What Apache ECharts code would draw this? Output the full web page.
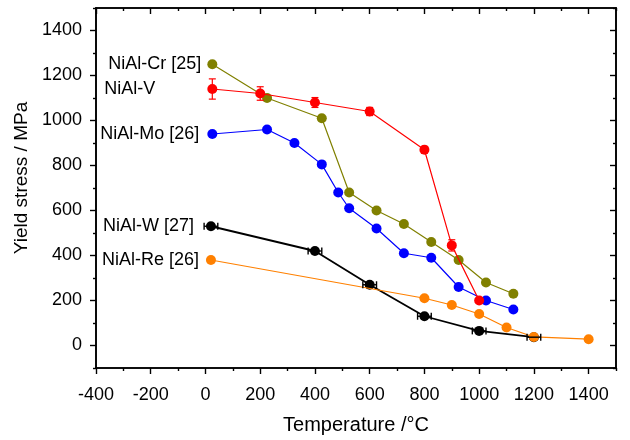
<!DOCTYPE html>
<html>
<head>
<meta charset="utf-8">
<script src="https://cdn.jsdelivr.net/npm/echarts@6/dist/echarts.min.js"></script>
<style>html,body{margin:0;padding:0;background:#fff}#c{width:630px;height:440px}</style>
</head>
<body>
<div id="c"></div>
<script>
// ---- data ----
var crT = [25, 225, 425, 525, 625, 725, 825, 925, 1025, 1125];
var crV = [1250, 1100, 1010, 680, 600, 540, 460, 380, 280, 230];
var vT = [25, 200, 400, 600, 800, 900, 1000];
var vV = [1140, 1120, 1080, 1040, 870, 445, 200];
var vErr = [45, 30, 22, 18, 15, 25, 8];
var moT = [25, 225, 325, 425, 485, 525, 625, 725, 825, 925, 1025, 1125];
var moV = [940, 960, 900, 805, 680, 610, 520, 410, 390, 260, 200, 160];
var wT = [20, 400, 600, 800, 1000, 1200];
var wV = [530, 420, 270, 130, 65, 37];
var wErrT = [25, 25, 25, 25, 25, 25];
var reT = [20, 800, 900, 1000, 1100, 1200, 1400];
var reV = [380, 210, 180, 140, 80, 38, 28];
var seriesNames = ['NiAl-Cr [25]', 'NiAl-V', 'NiAl-Mo [26]', 'NiAl-W [27]', 'NiAl-Re [26]'];
var xMajor = [-400, -200, 0, 200, 400, 600, 800, 1000, 1200, 1400];
var xMinor = [-300, -100, 100, 300, 500, 700, 900, 1100, 1300, 1500];
var yMajor = [0, 200, 400, 600, 800, 1000, 1200, 1400];
var yMinor = [-100, 100, 300, 500, 700, 900, 1100, 1300, 1500];

var FONT = 'Liberation Sans';
function zip(a, b) { return a.map(function (v, i) { return [v, b[i]]; }); }
function withLabel(data, text, dist) {
  data[0] = { value: data[0], label: { show: true, position: 'left', distance: dist, formatter: text,
    color: '#000', fontSize: 18, fontFamily: FONT } };
  return data;
}
function lineSeries(name, T, V, color, lw, dist, z) {
  return {
    name: name, type: 'line', data: withLabel(zip(T, V), name, dist),
    symbol: 'circle', symbolSize: 10, color: color, z: z,
    lineStyle: { color: color, width: lw }, itemStyle: { color: color },
    label: { show: false }, emphasis: { disabled: true }, animation: false
  };
}
var axLine = { show: true, onZero: false, lineStyle: { color: '#000', width: 1.6 } };
function plain(v) { return String(v); }
function xAx(pos, inside, values, len, labels) {
  return {
    type: 'value', position: pos, min: -400, max: 1500,
    axisLine: axLine, splitLine: { show: false },
    axisTick: { show: true, inside: inside, length: len, customValues: values, lineStyle: { color: '#000', width: 1.4 } },
    axisLabel: labels ? { show: true, customValues: xMajor, formatter: plain, color: '#000', fontSize: 18, fontFamily: FONT, margin: 18 } : { show: false }
  };
}
function yAx(pos, inside, values, len, labels) {
  return {
    type: 'value', position: pos, min: -100, max: 1500,
    axisLine: axLine, splitLine: { show: false },
    axisTick: { show: true, inside: inside, length: len, customValues: values, lineStyle: { color: '#000', width: 1.4 } },
    axisLabel: labels ? { show: true, customValues: yMajor, formatter: plain, color: '#000', fontSize: 18, fontFamily: FONT, margin: 14 } : { show: false }
  };
}
var xAxes = [xAx('bottom', false, xMajor, 6, true), xAx('bottom', false, xMinor, 3, false),
             xAx('top', true, xMajor, 6, false), xAx('top', true, xMinor, 3, false)];
xAxes[0].name = 'Temperature /\u00B0C';
xAxes[0].nameLocation = 'middle';
xAxes[0].nameGap = 47;
xAxes[0].nameTextStyle = { color: '#000', fontSize: 20, fontFamily: FONT };
var yAxes = [yAx('left', false, yMajor, 6, true), yAx('left', false, yMinor, 3, false),
             yAx('right', true, yMajor, 6, false), yAx('right', true, yMinor, 3, false)];
yAxes[0].name = 'Yield stress / MPa';
yAxes[0].nameLocation = 'middle';
yAxes[0].nameGap = 60;
yAxes[0].nameTextStyle = { color: '#000', fontSize: 19, fontFamily: FONT, padding: [0, 0, 0, 20] };

function vErrSeries(T, V, E, color) {
  return {
    type: 'custom', z: 5, animation: false, silent: true,
    data: T.map(function (t, i) { return [t, V[i], E[i]]; }),
    renderItem: function (params, api) {
      var t = api.value(0), v = api.value(1), e = api.value(2);
      var a = api.coord([t, v + e]), b = api.coord([t, v - e]);
      var w = 3.5, st = { stroke: color, lineWidth: 1.2 };
      return { type: 'group', children: [
        { type: 'line', shape: { x1: a[0], y1: a[1], x2: b[0], y2: b[1] }, style: st },
        { type: 'line', shape: { x1: a[0] - w, y1: a[1], x2: a[0] + w, y2: a[1] }, style: st },
        { type: 'line', shape: { x1: b[0] - w, y1: b[1], x2: b[0] + w, y2: b[1] }, style: st }
      ] };
    }
  };
}
function hErrSeries(T, V, E, color) {
  return {
    type: 'custom', z: 6, animation: false, silent: true,
    data: T.map(function (t, i) { return [t, V[i], E[i]]; }),
    renderItem: function (params, api) {
      var t = api.value(0), v = api.value(1), e = api.value(2);
      var a = api.coord([t - e, v]), b = api.coord([t + e, v]);
      var h = 3.5, st = { stroke: color, lineWidth: 1.4 };
      return { type: 'group', children: [
        { type: 'line', shape: { x1: a[0], y1: a[1], x2: b[0], y2: b[1] }, style: st },
        { type: 'line', shape: { x1: a[0], y1: a[1] - h, x2: a[0], y2: a[1] + h }, style: st },
        { type: 'line', shape: { x1: b[0], y1: b[1] - h, x2: b[0], y2: b[1] + h }, style: st }
      ] };
    }
  };
}

var chart = echarts.init(document.getElementById('c'), null, { renderer: 'canvas' });
chart.setOption({
  animation: false,
  backgroundColor: '#fff',
  grid: { left: 96, top: 8, right: 14, bottom: 70.5, containLabel: false },
  xAxis: xAxes,
  yAxis: yAxes,
  series: [
    lineSeries(seriesNames[3], wT, wV, '#000000', 1.8, 12, 2),
    lineSeries(seriesNames[4], reT, reV, '#ff8000', 1.2, 7, 3),
    lineSeries(seriesNames[2], moT, moV, '#0000ff', 1.2, 8, 3),
    lineSeries(seriesNames[0], crT, crV, '#808000', 1.2, 6, 3),
    lineSeries(seriesNames[1], vT, vV, '#ff0000', 1.2, 52, 4),
    vErrSeries(vT, vV, vErr, '#ff0000'),
    hErrSeries(wT, wV, wErrT, '#000000')
  ]
});
</script>
</body>
</html>
